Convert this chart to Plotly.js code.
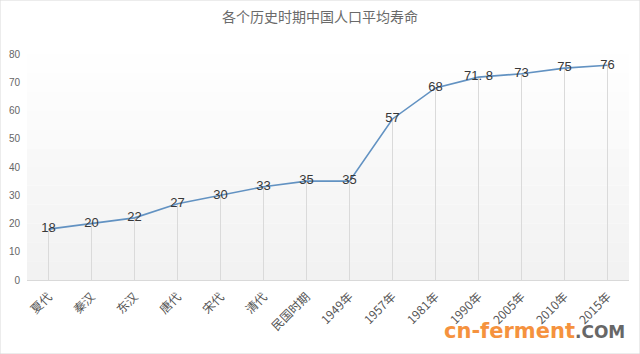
<!DOCTYPE html>
<html><head><meta charset="utf-8">
<script src="https://cdn.plot.ly/plotly-3.0.1.min.js"></script>
<style>html,body{margin:0;padding:0;background:#fff}#c{width:640px;height:354px}</style>
</head><body><div id="c"></div>
<script>
const categories = ['夏代','秦汉','东汉','唐代','宋代','清代','民国时期','1949年','1957年','1981年','1990年','2005年','2010年','2015年'];
const lifespan = [18,20,22,27,30,33,35,35,57,68,71.8,73,75,76];
const labels = ['18','20','22','27','30','33','35','35','57','68','71. 8','73','75','76'];
const yTicks = [0,10,20,30,40,50,60,70,80];

const font = '"Noto Sans CJK SC", "Liberation Sans", sans-serif';
const zeros = lifespan.map(() => 0);

const traces = [{
  type: 'scatter', mode: 'lines+text',
  x: categories, y: lifespan, text: labels,
  textposition: 'middle center',
  textfont: {family: '"Liberation Sans", Arial, sans-serif', size: 13, color: '#383838'},
  line: {color: '#6292c2', width: 1.6},
  error_y: {type: 'data', symmetric: false, array: zeros, arrayminus: lifespan,
            color: '#dadada', thickness: 1, width: 0},
  cliponaxis: false, hoverinfo: 'skip'
}];

const bands = [];
const nb = 12;
for (let i = 0; i < nb; i++) {
  const g = Math.round(255 - (nb - i) * 1.1);
  bands.push({type:'rect', xref:'x domain', yref:'y domain', x0:0, x1:1,
    y0: i/nb, y1: (i+1)/nb, fillcolor:`rgb(${g},${g},${g})`, line:{width:0}, layer:'below'});
}
bands.push({type:'rect', xref:'paper', yref:'paper', x0:-27/602, x1:1+11/602, y0:-74/226, y1:1+54/226,
  line:{color:'#d9d9d9', width:1}, fillcolor:'rgba(0,0,0,0)'});

const layout = {
  width: 640, height: 354,
  margin: {l: 27, r: 11, t: 54, b: 74},
  paper_bgcolor: '#fff', plot_bgcolor: 'rgba(0,0,0,0)',
  showlegend: false,
  title: {text: '各个历史时期中国人口平均寿命', x: 0.5, xanchor: 'center', y: 0.952, yanchor: 'middle',
          font: {family: font, size: 14, color: '#6a6a6a'}},
  xaxis: {type: 'category', range: [-0.5, categories.length - 0.5], showgrid: false, zeroline: false, showline: true,
          linecolor: '#d9d9d9', linewidth: 1, ticks: '', tickangle: -45, ticklabelstandoff: 4,
          tickfont: {family: font, size: 12, color: '#555555'}, automargin: false},
  yaxis: {range: [0, 80], tickvals: yTicks, showgrid: false, zeroline: false, showline: false,
          ticks: '', tickfont: {family: '"Liberation Sans", sans-serif', size: 10, color: '#666666'},
          ticklabelstandoff: 6, automargin: false},
  shapes: bands,
  annotations: [{
    xref: 'paper', yref: 'paper', x: 600/602, y: -0.226, xanchor: 'right', yanchor: 'middle',
    text: '<span style="color:#f5923e;font-size:21px">cn-ferment</span><span style="color:#676767;font-size:17px">.COM</span>',
    showarrow: false, font: {family: '"DejaVu Sans", sans-serif', size: 21, weight: 700}
  }]
};
Plotly.newPlot('c', traces, layout, {displayModeBar: false, staticPlot: true});
</script></body></html>
